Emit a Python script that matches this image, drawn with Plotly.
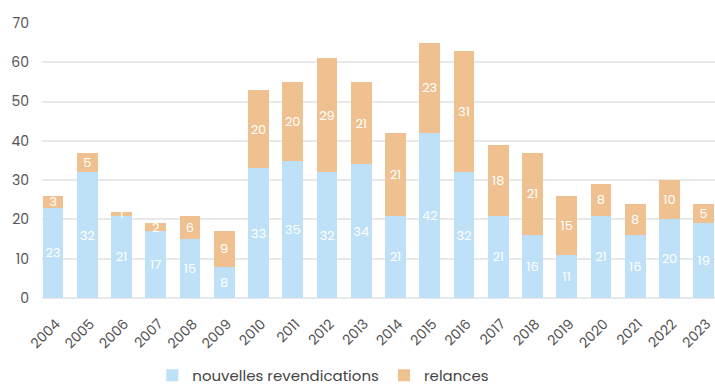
import plotly.graph_objects as go

years = [str(y) for y in range(2004, 2024)]
nouvelles = [23, 32, 21, 17, 15, 8, 33, 35, 32, 34, 21, 42, 32, 21, 16, 11, 21, 16, 20, 19]
relances = [3, 5, 1, 2, 6, 9, 20, 20, 29, 21, 21, 23, 31, 18, 21, 15, 8, 8, 10, 5]

BLUE = "#BEE1F7"
ORANGE = "#F0C190"
FONT = "Poppins, Inter, sans-serif"

fig = go.Figure()
fig.add_trace(go.Bar(
    x=years, y=nouvelles, name="nouvelles revendications",
    marker=dict(color=BLUE, line=dict(width=0)),
    text=nouvelles, textposition="inside", insidetextanchor="middle", textangle=0,
    textfont=dict(color="white", size=13, family=FONT),
))
fig.add_trace(go.Bar(
    x=years, y=relances, name="relances",
    marker=dict(color=ORANGE, line=dict(width=0)),
    text=relances, textposition="inside", insidetextanchor="middle", textangle=0,
    textfont=dict(color="white", size=13, family=FONT),
))

fig.update_layout(
    barmode="stack",
    bargap=0.39,
    width=715, height=386,
    margin=dict(l=42, r=0, t=23, b=88, autoexpand=False),
    paper_bgcolor="white", plot_bgcolor="white",
    font=dict(family=FONT, color="#555555", size=13),
    uniformtext=dict(minsize=13, mode="show"),
    xaxis=dict(
        type="category", range=[-0.32, 19.33], automargin=False,
        tickangle=-45, showgrid=False, showline=False, ticks="",
        ticklabelstandoff=14, ticklabelshift=3,
        tickfont=dict(size=14, color="#555555"),
    ),
    yaxis=dict(
        range=[0, 70], dtick=10, showgrid=True, gridcolor="#E9E9E9", gridwidth=1.5,
        zeroline=True, zerolinecolor="#E9E9E9", zerolinewidth=1.5, automargin=False,
        showline=False, ticks="", ticklabelstandoff=12,
        tickfont=dict(size=14, color="#555555"),
    ),
    legend=dict(
        orientation="h", x=0.418, xanchor="center", y=-0.282, yanchor="middle",
        font=dict(size=15, color="#444444"), traceorder="normal",
        itemwidth=30,
    ),
)

fig.write_html("out.html")
